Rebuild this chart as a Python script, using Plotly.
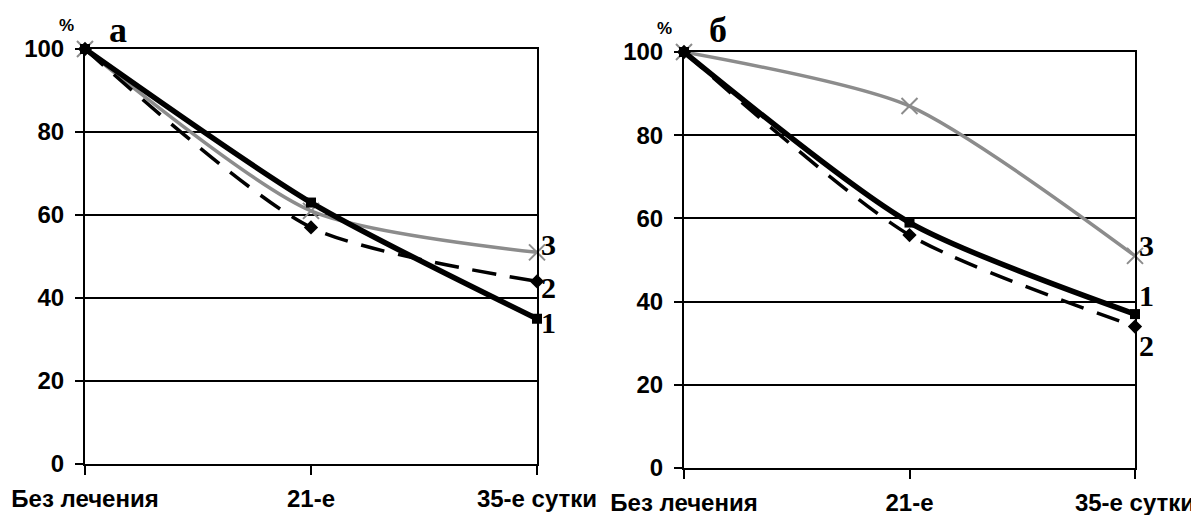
import plotly.graph_objects as go

# The page body adds an 8px offset; the figure is laid out in screen pixels minus that offset.
OFF = 8
W, H = 1199 - OFF, 515 - OFF

categories = ["Без лечения", "21-е", "35-е сутки"]
y_ticks = [0, 20, 40, 60, 80, 100]

# panel а
a_s1 = [100, 63, 35]
a_s2 = [100, 57, 44]
a_s3 = [100, 61, 51]
# panel б
b_s1 = [100, 59, 37]
b_s2 = [100, 56, 34]
b_s3 = [100, 87, 51]

series_labels_a = {"1": 34, "2": 42.5, "3": 53}
series_labels_b = {"1": 41.5, "2": 29.5, "3": 53.5}

GRAY = "#8c8c8c"
xpos = [0, 1, 2]

fig = go.Figure()

def add_panel(s1, s2, s3, xa, ya):
    fig.add_trace(go.Scatter(x=xpos, y=s3, mode="lines+markers", xaxis=xa, yaxis=ya,
                             line=dict(color=GRAY, width=3.5, shape="spline", smoothing=0.7),
                             marker=dict(symbol="x-thin", size=16, line=dict(color=GRAY, width=2)),
                             cliponaxis=False, showlegend=False))
    fig.add_trace(go.Scatter(x=xpos, y=s2, mode="lines+markers", xaxis=xa, yaxis=ya,
                             line=dict(color="black", width=3.5, dash="24px,14px", shape="spline", smoothing=0.7),
                             marker=dict(symbol="diamond", size=11, color="black"),
                             cliponaxis=False, showlegend=False))
    fig.add_trace(go.Scatter(x=xpos, y=s1, mode="lines+markers", xaxis=xa, yaxis=ya,
                             line=dict(color="black", width=5.5, shape="spline", smoothing=0.7),
                             marker=dict(symbol="square", size=10, color="black"),
                             cliponaxis=False, showlegend=False))

add_panel(a_s1, a_s2, a_s3, "x", "y")
add_panel(b_s1, b_s2, b_s3, "x2", "y2")

def px(x):
    return (x - OFF) / W

def py(y):
    return 1 - (y - OFF) / H

xdom_a = [px(85), px(537)]
xdom_b = [px(684), px(1135)]
ydom_a = [py(464), py(49)]
ydom_b = [py(468), py(52)]

xcommon = dict(range=[0, 2], tickmode="array", tickvals=xpos, ticktext=categories,
               ticks="outside", ticklen=9, tickwidth=2, tickcolor="black",
               showline=True, linecolor="black", linewidth=2, mirror=True,
               showgrid=False, zeroline=False, automargin=False, ticklabelstandoff=3,
               tickfont=dict(family="Liberation Sans", size=24, color="black", weight="bold"))
ycommon = dict(range=[0, 100], tickmode="array", tickvals=y_ticks,
               ticks="outside", ticklen=8, tickwidth=2, tickcolor="black",
               showline=True, linecolor="black", linewidth=2, mirror=True,
               showgrid=True, gridcolor="black", gridwidth=2, zeroline=False, automargin=False,
               ticklabelstandoff=6,
               tickfont=dict(family="Liberation Sans", size=24, color="black", weight="bold"))

fig.update_layout(
    template="none",
    width=W, height=H,
    margin=dict(l=0, r=0, t=0, b=0, autoexpand=False),
    paper_bgcolor="white", plot_bgcolor="white",
    xaxis=dict(domain=xdom_a, anchor="y", **xcommon),
    yaxis=dict(domain=ydom_a, anchor="x", **ycommon),
    xaxis2=dict(domain=xdom_b, anchor="y2", **xcommon),
    yaxis2=dict(domain=ydom_b, anchor="x2", **ycommon),
)

ann = []
serif = dict(family="Liberation Serif", color="black", weight="bold")
for txt, yv in series_labels_a.items():
    ann.append(dict(x=2, y=yv, xref="x", yref="y", text=txt, showarrow=False,
                    xanchor="left", yanchor="middle", xshift=2,
                    font=dict(size=30, **serif)))
for txt, yv in series_labels_b.items():
    ann.append(dict(x=2, y=yv, xref="x2", yref="y2", text=txt, showarrow=False,
                    xanchor="left", yanchor="middle", xshift=2,
                    font=dict(size=30, **serif)))

# panel letters
ann.append(dict(x=px(118), y=1, xref="paper", yref="paper", text="а", showarrow=False,
                xanchor="center", yanchor="top", font=dict(size=36, **serif)))
ann.append(dict(x=px(718), y=1, xref="paper", yref="paper", text="б", showarrow=False,
                xanchor="center", yanchor="top", font=dict(size=36, **serif)))
# percent signs
pct_font = dict(family="Liberation Sans", size=17, color="black", weight="bold")
ann.append(dict(x=px(66), y=py(26), xref="paper", yref="paper", text="%", showarrow=False,
                xanchor="center", yanchor="middle", font=pct_font))
ann.append(dict(x=px(665), y=py(29), xref="paper", yref="paper", text="%", showarrow=False,
                xanchor="center", yanchor="middle", font=pct_font))

fig.update_layout(annotations=ann)

fig.write_html("out.html")
